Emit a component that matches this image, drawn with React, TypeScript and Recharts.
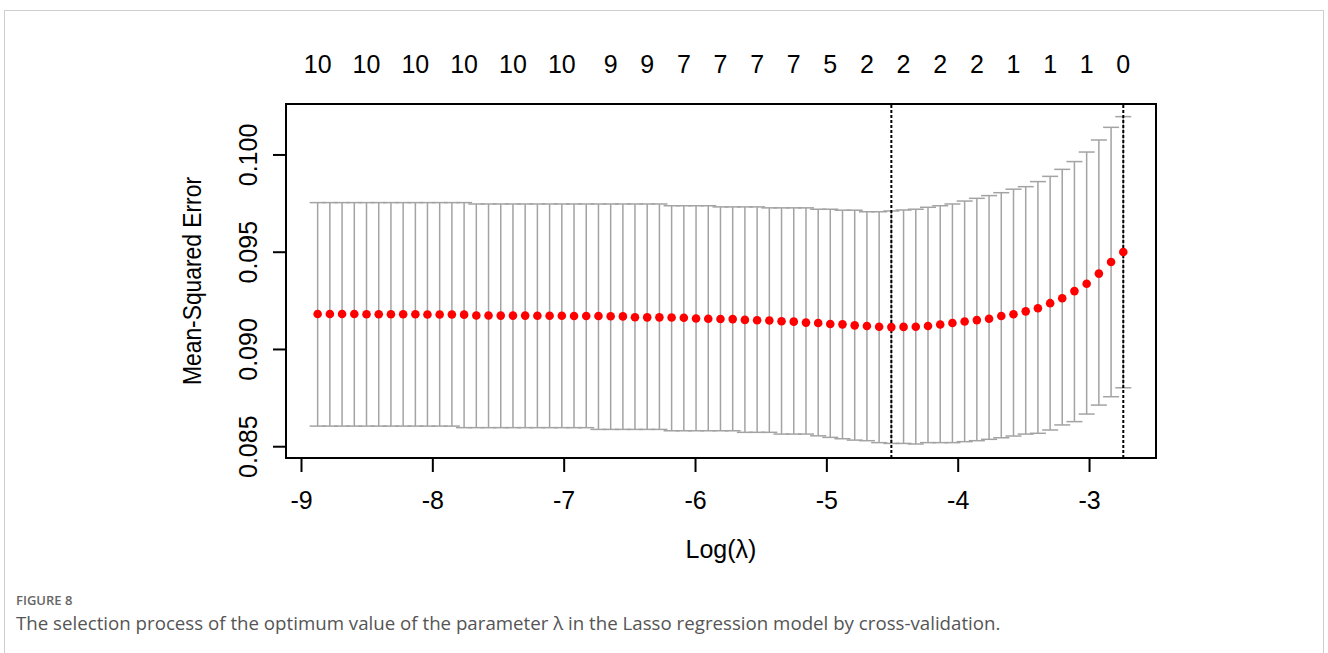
import React from 'react';
import { ScatterChart, Scatter, XAxis, YAxis, ErrorBar, ReferenceLine, ReferenceArea } from 'recharts';

// log(lambda) path of the cross-validated lasso fit
const logLambda = [
  -8.877, -8.784, -8.691, -8.598, -8.505, -8.412, -8.319, -8.226, -8.133, -8.041,
  -7.948, -7.855, -7.762, -7.669, -7.576, -7.483, -7.390, -7.297, -7.204, -7.111,
  -7.018, -6.925, -6.832, -6.739, -6.646, -6.553, -6.461, -6.368, -6.275, -6.182,
  -6.089, -5.996, -5.903, -5.810, -5.717, -5.624, -5.531, -5.438, -5.345, -5.252,
  -5.159, -5.066, -4.974, -4.881, -4.788, -4.695, -4.602, -4.509, -4.416, -4.323,
  -4.230, -4.137, -4.044, -3.951, -3.858, -3.765, -3.672, -3.579, -3.486, -3.393,
  -3.300, -3.208, -3.115, -3.022, -2.929, -2.836, -2.743,
];

const meanMse = [
  0.09182, 0.09182, 0.09182, 0.09182, 0.09181, 0.09181, 0.09181, 0.09181, 0.09181, 0.0918,
  0.0918, 0.0918, 0.09179, 0.09175, 0.09175, 0.09174, 0.09174, 0.09174, 0.09173, 0.09173,
  0.09173, 0.09172, 0.09172, 0.09172, 0.09171, 0.0917, 0.09166, 0.09165, 0.09165, 0.09164,
  0.09163, 0.09159, 0.09158, 0.09157, 0.09156, 0.09152, 0.0915, 0.09149, 0.09145, 0.09143,
  0.09138, 0.09136, 0.09131, 0.09129, 0.09124, 0.09121, 0.09117, 0.09115, 0.09116, 0.09117,
  0.09121, 0.09128, 0.09136, 0.09144, 0.09151, 0.09158, 0.09172, 0.09181, 0.09196, 0.09212,
  0.09238, 0.09263, 0.093, 0.09338, 0.0939, 0.0945, 0.09501,
];

const upperMse = [
  0.09755, 0.09755, 0.09755, 0.09755, 0.09755, 0.09755, 0.09755, 0.09755, 0.09755, 0.09755,
  0.09755, 0.09755, 0.09755, 0.09748, 0.09748, 0.09748, 0.09748, 0.09748, 0.09748, 0.09748,
  0.09748, 0.09748, 0.09748, 0.09748, 0.09748, 0.09748, 0.09748, 0.09748, 0.09748, 0.09739,
  0.09739, 0.09739, 0.09739, 0.09733, 0.09733, 0.09733, 0.09733, 0.09728, 0.09728, 0.09728,
  0.09728, 0.09721, 0.09721, 0.09716, 0.09716, 0.09708, 0.09708, 0.09712, 0.09717, 0.09721,
  0.09731, 0.09739, 0.09748, 0.09763, 0.09777, 0.09791, 0.09806, 0.09824, 0.09837, 0.09863,
  0.0989, 0.09926, 0.09966, 0.10015, 0.10077, 0.10142, 0.10197,
];

const lowerMse = [
  0.08606, 0.08606, 0.08606, 0.08606, 0.08606, 0.08606, 0.08606, 0.08606, 0.08606, 0.08606,
  0.08606, 0.08606, 0.08598, 0.08598, 0.08598, 0.08598, 0.08598, 0.08598, 0.08598, 0.08598,
  0.08598, 0.08598, 0.08598, 0.08589, 0.08589, 0.08589, 0.08589, 0.08589, 0.08589, 0.08582,
  0.08582, 0.08582, 0.08582, 0.08582, 0.08582, 0.08574, 0.08574, 0.08574, 0.08565, 0.08565,
  0.08565, 0.08556, 0.08548, 0.08541, 0.08534, 0.08531, 0.08521, 0.08517, 0.08517, 0.08514,
  0.08521, 0.08521, 0.08521, 0.08526, 0.08531, 0.08538, 0.08546, 0.08555, 0.08565, 0.08569,
  0.08586, 0.08612, 0.08629, 0.08668, 0.08714, 0.08757, 0.08803,
];

// number of non-zero coefficients printed along the top
const nzeroLabels = ['10', '10', '10', '10', '10', '10', '9', '9', '7', '7', '7', '7', '5', '2', '2', '2', '2', '1', '1', '1', '0'];
const nzeroAt = [0, 4, 8, 12, 16, 20, 24, 27, 30, 33, 36, 39, 42, 45, 48, 51, 54, 57, 60, 63, 66];

const xTicks = [-9, -8, -7, -6, -5, -4, -3];
const yTicks = [0.085, 0.09, 0.095, 0.1];

const lambdaMinIdx = 47;
const lambda1seIdx = 66;

const X_DOMAIN: [number, number] = [-9.118, -2.494];
const Y_DOMAIN: [number, number] = [0.08442, 0.10262];

const AXIS_FONT = '"Liberation Sans", Arial, sans-serif';
const FONT_SIZE = 25;

const rows = logLambda.map((x, i) => ({
  x,
  y: meanMse[i],
  err: [meanMse[i] - lowerMse[i], upperMse[i] - meanMse[i]],
}));

const topTicks = nzeroAt.map((i) => logLambda[i]);

const YTick = (props: any) => {
  const { x, y, payload } = props;
  return (
    <text
      x={x}
      y={y}
      transform={`rotate(-90, ${x}, ${y})`}
      textAnchor="middle"
      fontFamily={AXIS_FONT}
      fontSize={FONT_SIZE}
      fill="#000"
    >
      {Number(payload.value).toFixed(3)}
    </text>
  );
};

const YTitle = (props: any) => {
  const { viewBox } = props;
  const cy = viewBox.y + viewBox.height / 2;
  const cx = 201;
  return (
    <text
      x={cx}
      y={cy}
      transform={`rotate(-90, ${cx}, ${cy})`}
      textAnchor="middle"
      fontFamily={AXIS_FONT}
      fontSize={FONT_SIZE}
      fill="#000"
      textLength={208}
      lengthAdjust="spacingAndGlyphs"
    >
      Mean-Squared Error
    </text>
  );
};

const XTitle = (props: any) => {
  const { viewBox } = props;
  return (
    <text
      x={viewBox.x + viewBox.width / 2}
      y={558}
      textAnchor="middle"
      fontFamily={AXIS_FONT}
      fontSize={FONT_SIZE}
      fill="#000"
    >
      Log(λ)
    </text>
  );
};

const RedDot = (props: any) => <circle cx={props.cx} cy={props.cy} r={4.3} fill="#ff0000" />;

export default function App() {
  return (
    <div style={{ position: 'absolute', left: 0, top: 0, width: 1328, height: 653, background: '#fff', overflow: 'hidden' }}>
      <div
        style={{
          position: 'absolute',
          left: 4,
          top: 10,
          width: 1320,
          height: 700,
          border: '1px solid #cfcfcf',
          boxSizing: 'border-box',
        }}
      />
      <div style={{ position: 'absolute', left: 0, top: 0 }}>
        <ScatterChart width={1328} height={653} margin={{ top: 0, right: 172, bottom: 0, left: 0 }}>
          <XAxis
            xAxisId="top"
            orientation="top"
            dataKey="x"
            type="number"
            domain={X_DOMAIN}
            allowDataOverflow
            ticks={topTicks}
            interval={0}
            height={104}
            axisLine={false}
            tickLine={false}
            tickSize={0}
            tickMargin={31}
            tickFormatter={(v: number) => nzeroLabels[topTicks.indexOf(v)] ?? ''}
            tick={{ fontFamily: AXIS_FONT, fontSize: FONT_SIZE, fill: '#000' }}
          />
          <XAxis
            xAxisId="bottom"
            dataKey="x"
            type="number"
            domain={X_DOMAIN}
            allowDataOverflow
            ticks={xTicks}
            interval={0}
            height={195}
            axisLine={false}
            tickLine={{ stroke: '#000', strokeWidth: 2 }}
            tickSize={14}
            tickMargin={19}
            tick={{ fontFamily: AXIS_FONT, fontSize: FONT_SIZE, fill: '#000' }}
            label={{ content: XTitle }}
          />
          <YAxis
            dataKey="y"
            type="number"
            domain={Y_DOMAIN}
            allowDataOverflow
            ticks={yTicks}
            interval={0}
            width={286}
            axisLine={false}
            tickLine={{ stroke: '#000', strokeWidth: 2 }}
            tickSize={13}
            tickMargin={16}
            tick={<YTick />}
            label={{ content: YTitle }}
          />
          <ReferenceArea
            xAxisId="bottom"
            x1={X_DOMAIN[0]}
            x2={X_DOMAIN[1]}
            y1={Y_DOMAIN[0]}
            y2={Y_DOMAIN[1]}
            fill="none"
            stroke="#000"
            strokeWidth={2}
            ifOverflow="visible"
          />
          <Scatter xAxisId="bottom" data={rows} dataKey="y" shape={<RedDot />} isAnimationActive={false}>
            <ErrorBar dataKey="err" direction="y" width={8} stroke="#a3a3a3" strokeWidth={1.5} isAnimationActive={false} />
          </Scatter>
          <ReferenceLine
            xAxisId="bottom"
            x={logLambda[lambdaMinIdx]}
            stroke="#000"
            strokeWidth={2}
            strokeDasharray="3 2"
          />
          <ReferenceLine
            xAxisId="bottom"
            x={logLambda[lambda1seIdx]}
            stroke="#000"
            strokeWidth={2}
            strokeDasharray="3 2"
          />
        </ScatterChart>
      </div>
      <div
        style={{
          position: 'absolute',
          left: 16,
          top: 591,
          fontFamily: '"Open Sans", "Noto Sans", sans-serif',
          fontSize: 13,
          fontWeight: 600,
          color: '#666',
          lineHeight: '18px',
        }}
      >
        FIGURE 8
      </div>
      <div
        style={{
          position: 'absolute',
          left: 16,
          top: 610,
          fontFamily: '"Open Sans", "Noto Sans", sans-serif',
          fontSize: 18.7,
          color: '#555',
          lineHeight: '26px',
          whiteSpace: 'nowrap',
        }}
      >
        The selection process of the optimum value of the parameter λ in the Lasso regression model by cross-validation.
      </div>
    </div>
  );
}
